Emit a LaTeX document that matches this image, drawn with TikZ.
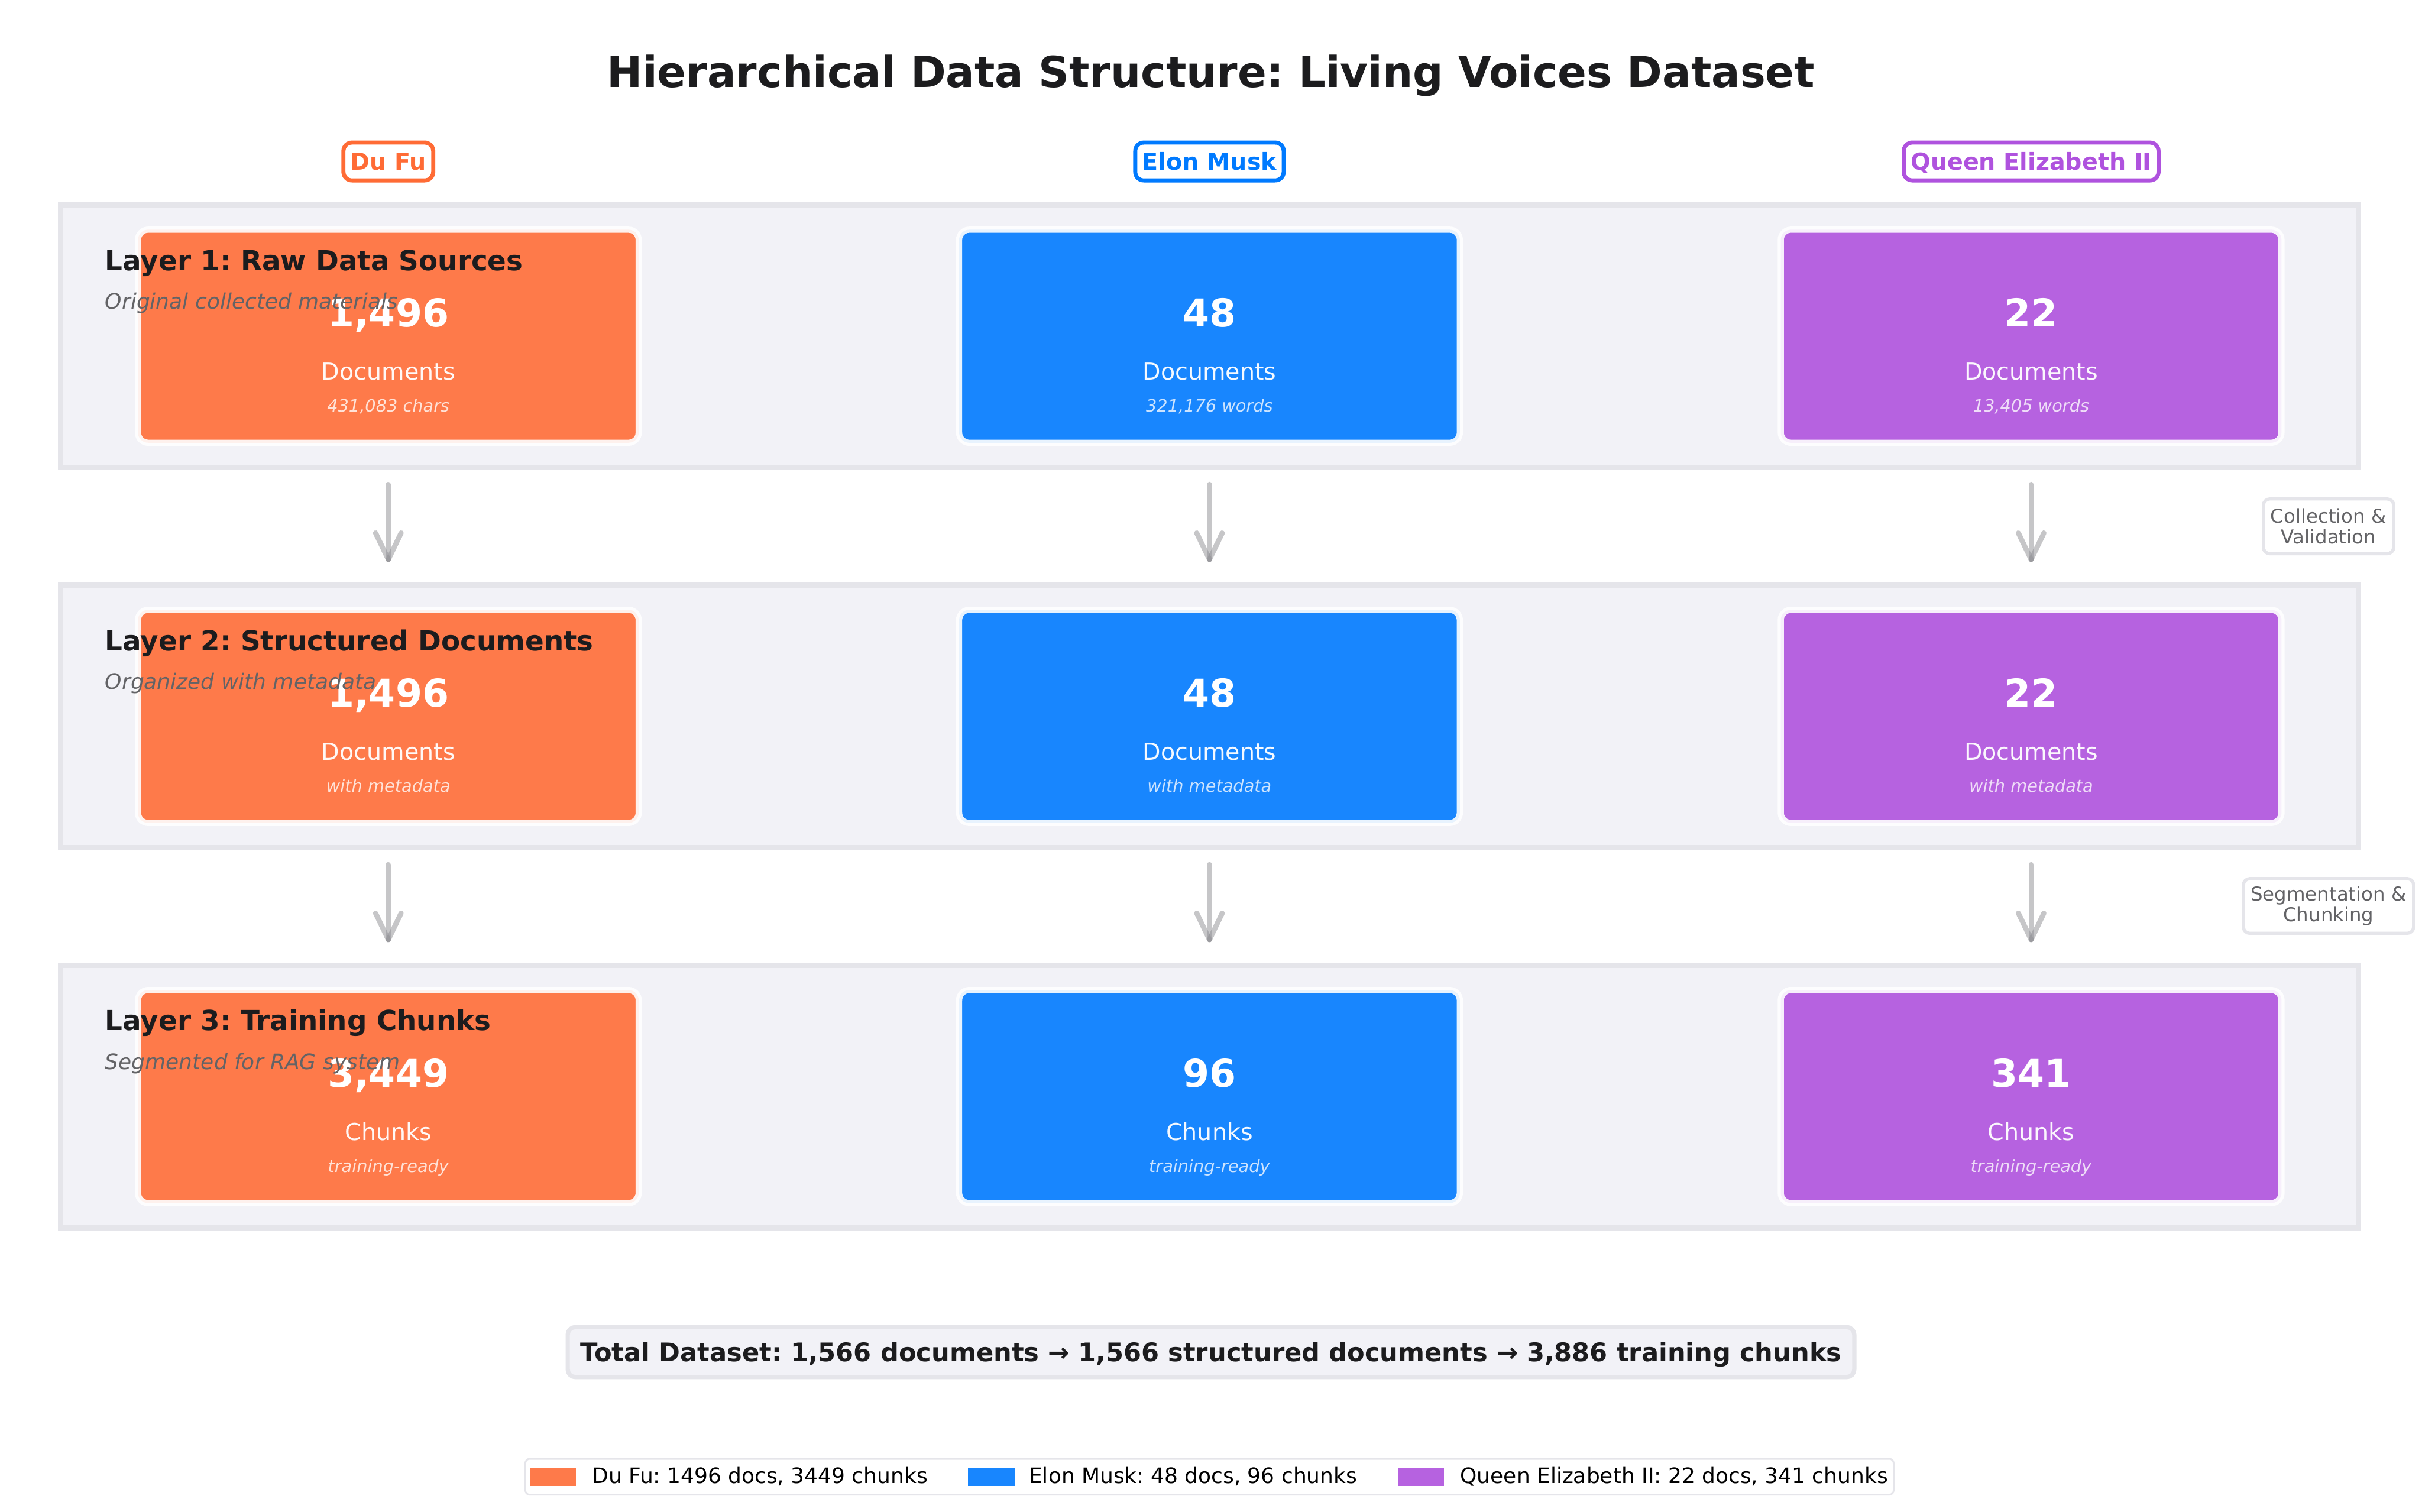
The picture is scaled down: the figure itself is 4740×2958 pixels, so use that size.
\documentclass[tikz,border=0pt]{standalone}
\usepackage{fontspec}
\setmainfont{DejaVu Sans}
\usetikzlibrary{calc}
\frenchspacing
\definecolor{panelfill}{HTML}{F2F2F7}
\definecolor{panelline}{HTML}{E5E5EA}
\definecolor{cdufu}{HTML}{FF6B35}
\definecolor{celon}{HTML}{007AFF}
\definecolor{cqueen}{HTML}{AF52DE}
\definecolor{bdufu}{HTML}{FE7A4A}
\definecolor{belon}{HTML}{1886FE}
\definecolor{bqueen}{HTML}{B662E0}
\definecolor{ink}{HTML}{1C1C1E}
\definecolor{subgray}{HTML}{636366}
\definecolor{arrowgray}{HTML}{8E8E93}
\tikzset{
  panel/.style={rectangle, fill=panelfill, draw=panelline, line width=2.4pt,
    minimum width=1079.5pt, minimum height=123.4pt, inner sep=0pt},
  databox/.style={rectangle, rounded corners=4.8pt, draw=white, draw opacity=0.9,
    line width=2.9pt, minimum width=235.2pt, minimum height=100.1pt, inner sep=0pt},
  numtext/.style={anchor=base, inner sep=0pt, text=white, font=\fontsize{18}{21}\selectfont\bfseries},
  unittext/.style={anchor=base, inner sep=0pt, font=\fontsize{11}{13}\selectfont},
  subtext/.style={anchor=base, inner sep=0pt, font=\fontsize{8}{10}\selectfont\itshape},
  layertitle/.style={anchor=base west, inner sep=0pt, text=ink, font=\fontsize{13}{15}\selectfont\bfseries},
  layersub/.style={anchor=base west, inner sep=0pt, text=subgray, font=\fontsize{10}{12}\selectfont\itshape},
  person/.style={rectangle, rounded corners=4pt, fill=white, line width=1.9pt,
    inner xsep=3.3pt, minimum height=17.8pt, text height=8pt, text depth=0pt,
    font=\fontsize{11}{13}\selectfont\bfseries},
  flowlabel/.style={rectangle, rounded corners=3pt, fill=white, draw=panelline,
    line width=1.5pt, align=center, text=subgray, font=\fontsize{9}{9.84}\selectfont,
    inner xsep=3.4pt, minimum height=25.7pt},
  flowarrow/.style={draw=arrowgray, draw opacity=0.5, line width=2.4pt, line cap=round},
  titletext/.style={anchor=base, inner sep=0pt, text=ink, font=\fontsize{20}{24}\selectfont\bfseries},
  totalbox/.style={rectangle, rounded corners=3.6pt, fill=panelfill, draw=panelline,
    line width=2pt, minimum width=604.3pt, minimum height=23.5pt, text=ink,
    text height=8.7pt, text depth=0pt, font=\fontsize{12}{14}\selectfont\bfseries},
  legendframe/.style={rectangle, rounded corners=2pt, fill=white, draw=panelline,
    line width=0.8pt, minimum width=642.7pt, minimum height=16.8pt, inner sep=0pt},
  swatch/.style={rectangle, minimum width=21.8pt, minimum height=8.6pt, inner sep=0pt},
  legtext/.style={anchor=base west, inner sep=0pt, text=black, font=\fontsize{10}{12}\selectfont},
}
\begin{document}
\begin{tikzpicture}[x=0.24pt,y=-0.24pt]
\useasboundingbox (0,0) rectangle (4740,2958);
\fill[white] (0,0) rectangle (4740,2958);

% title
\node[titletext] (title) at (2370,171) {Hierarchical Data Structure: Living Voices Dataset};

% person labels
\node[person, draw=cdufu, text=cdufu] (pdufu) at (760,316) {Du Fu};
\node[person, draw=celon, text=celon] (pelon) at (2367,316) {Elon Musk};
\node[person, draw=cqueen, text=cqueen] (pqueen) at (3975,316) {Queen Elizabeth II};

% panels
\node[panel] (p1) at (2367,658) {};
\node[panel] (p2) at (2367,1402) {};
\node[panel] (p3) at (2367,2146) {};

% layer 1 boxes
\node[databox, fill=bdufu] (b1a) at (760,658) {};
\node[databox, fill=belon] (b1b) at (2367,658) {};
\node[databox, fill=bqueen] (b1c) at (3975,658) {};
% layer 2 boxes
\node[databox, fill=bdufu] (b2a) at (760,1402) {};
\node[databox, fill=belon] (b2b) at (2367,1402) {};
\node[databox, fill=bqueen] (b2c) at (3975,1402) {};
% layer 3 boxes
\node[databox, fill=bdufu] (b3a) at (760,2146) {};
\node[databox, fill=belon] (b3b) at (2367,2146) {};
\node[databox, fill=bqueen] (b3c) at (3975,2146) {};

% box texts layer 1
\node[numtext] (n1a) at ($(b1a.center)+(0,-19)$) {1,496};
\node[unittext, text=white!95!bdufu] (u1a) at ($(b1a.center)+(0,86)$) {Documents};
\node[subtext, text=white!78!bdufu] (s1a) at ($(b1a.center)+(0,148)$) {431,083 chars};
\node[numtext] (n1b) at ($(b1b.center)+(0,-19)$) {48};
\node[unittext, text=white!95!belon] (u1b) at ($(b1b.center)+(0,86)$) {Documents};
\node[subtext, text=white!78!belon] (s1b) at ($(b1b.center)+(0,148)$) {321,176 words};
\node[numtext] (n1c) at ($(b1c.center)+(0,-19)$) {22};
\node[unittext, text=white!95!bqueen] (u1c) at ($(b1c.center)+(0,86)$) {Documents};
\node[subtext, text=white!78!bqueen] (s1c) at ($(b1c.center)+(0,148)$) {13,405 words};
% box texts layer 2
\node[numtext] (n2a) at ($(b2a.center)+(0,-19)$) {1,496};
\node[unittext, text=white!95!bdufu] (u2a) at ($(b2a.center)+(0,86)$) {Documents};
\node[subtext, text=white!78!bdufu] (s2a) at ($(b2a.center)+(0,148)$) {with metadata};
\node[numtext] (n2b) at ($(b2b.center)+(0,-19)$) {48};
\node[unittext, text=white!95!belon] (u2b) at ($(b2b.center)+(0,86)$) {Documents};
\node[subtext, text=white!78!belon] (s2b) at ($(b2b.center)+(0,148)$) {with metadata};
\node[numtext] (n2c) at ($(b2c.center)+(0,-19)$) {22};
\node[unittext, text=white!95!bqueen] (u2c) at ($(b2c.center)+(0,86)$) {Documents};
\node[subtext, text=white!78!bqueen] (s2c) at ($(b2c.center)+(0,148)$) {with metadata};
% box texts layer 3
\node[numtext] (n3a) at ($(b3a.center)+(0,-19)$) {3,449};
\node[unittext, text=white!95!bdufu] (u3a) at ($(b3a.center)+(0,86)$) {Chunks};
\node[subtext, text=white!78!bdufu] (s3a) at ($(b3a.center)+(0,148)$) {training-ready};
\node[numtext] (n3b) at ($(b3b.center)+(0,-19)$) {96};
\node[unittext, text=white!95!belon] (u3b) at ($(b3b.center)+(0,86)$) {Chunks};
\node[subtext, text=white!78!belon] (s3b) at ($(b3b.center)+(0,148)$) {training-ready};
\node[numtext] (n3c) at ($(b3c.center)+(0,-19)$) {341};
\node[unittext, text=white!95!bqueen] (u3c) at ($(b3c.center)+(0,86)$) {Chunks};
\node[subtext, text=white!78!bqueen] (s3c) at ($(b3c.center)+(0,148)$) {training-ready};

% layer titles
\node[layertitle] (l1) at (205,529) {Layer 1: Raw Data Sources};
\node[layersub] (l1s) at (205,605) {Original collected materials};
\node[layertitle] (l2) at (205,1273) {Layer 2: Structured Documents};
\node[layersub] (l2s) at (205,1349) {Organized with metadata};
\node[layertitle] (l3) at (205,2017) {Layer 3: Training Chunks};
\node[layersub] (l3s) at (205,2093) {Segmented for RAG system};

% arrows between layers
\foreach \c in {a,b,c}{
  \draw[flowarrow] ($(b1\c.center)+(0,290)$) -- ($(b2\c.center)+(0,-307)$) coordinate (e1\c);
  \draw[flowarrow] ($(e1\c)+(-25,-52)$) -- (e1\c);
  \draw[flowarrow] ($(e1\c)+(25,-52)$) -- (e1\c);
  \draw[flowarrow] ($(b2\c.center)+(0,290)$) -- ($(b3\c.center)+(0,-307)$) coordinate (e2\c);
  \draw[flowarrow] ($(e2\c)+(-25,-52)$) -- (e2\c);
  \draw[flowarrow] ($(e2\c)+(25,-52)$) -- (e2\c);
}

% flow labels
\node[flowlabel] (f1) at (4557,1030) {Collection \&\\Validation};
\node[flowlabel] (f2) at (4557,1773) {Segmentation \&\\Chunking};

% total
\node[totalbox] (total) at (2370,2646) {Total Dataset: 1,566 documents → 1,566 structured documents → 3,886 training chunks};

% legend
\node[legendframe] (leg) at (2367,2890) {};
\node[swatch, fill=bdufu] (sw1) at (1082,2890) {};
\node[legtext] (lt1) at (1158,2903) {Du Fu: 1496 docs, 3449 chunks};
\node[swatch, fill=belon] (sw2) at (1940,2890) {};
\node[legtext] (lt2) at (2013,2903) {Elon Musk: 48 docs, 96 chunks};
\node[swatch, fill=bqueen] (sw3) at (2781,2890) {};
\node[legtext] (lt3) at (2857,2903) {Queen Elizabeth II: 22 docs, 341 chunks};
\end{tikzpicture}
\end{document}
